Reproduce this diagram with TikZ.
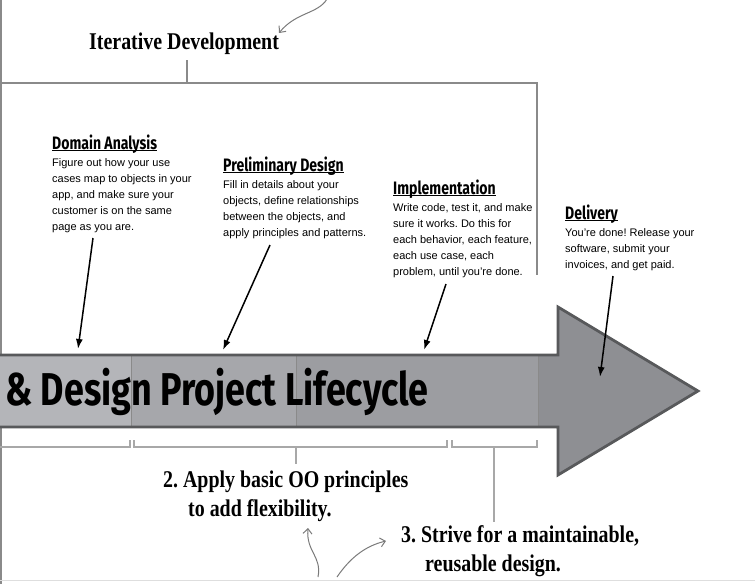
\documentclass[tikz,border=0pt]{standalone}
\usepackage{fontspec}
\setmainfont{Liberation Sans}
\newfontfamily\handfont[FakeStretch=0.78]{Fira Sans}
\newfontfamily\notefont[FakeStretch=0.83]{Liberation Serif}
\usepackage{xcolor}
\usepackage{tikz}
\usetikzlibrary{positioning, arrows.meta}

\definecolor{segA}{HTML}{B4B5B9}
\definecolor{segB}{HTML}{A6A7AB}
\definecolor{segC}{HTML}{9C9DA1}
\definecolor{segD}{HTML}{8E8F93}
\definecolor{borderg}{HTML}{58595B}
\definecolor{frameg}{HTML}{8A8A8A}
\definecolor{braceg}{HTML}{A8A8A8}
\definecolor{curlg}{HTML}{7A7A7A}

\newcommand{\headul}[1]{\setbox0\hbox{#1}\rlap{\copy0}\rule[-1.8pt]{\wd0}{1.1pt}}
\frenchspacing

\begin{document}
\begin{tikzpicture}[x=1pt, y=-1pt, >={Latex[length=10pt,width=7pt]},
    stephead/.style={font=\handfont\bfseries\fontsize{18}{18}\selectfont, inner sep=0pt, anchor=base west},
    steptext/.style={font=\fontsize{11}{16}\selectfont, align=left, inner sep=0pt},
    notetext/.style={font=\notefont\bfseries\fontsize{24}{29}\selectfont, align=left, inner sep=0pt},
    framel/.style={draw=frameg, line width=1.3pt},
    bracel/.style={draw=braceg, line width=1.1pt},
    pointer/.style={->, line width=1.5pt},
    curly/.style={-{Straight Barb[length=5pt,width=9pt]}, draw=curlg, line width=1pt}]
    \useasboundingbox (0,0) rectangle (755,584);

    % 1. Khung Iterative Development
    \draw[framel] (1,0) -- (1,584);
    \draw[framel] (1,83) -- (537,83) -- (537,275);
    \node[notetext, anchor=base west] (iter) at (89,49) {Iterative Development};
    \coordinate (itertick) at (187,60);
    \draw[framel] (itertick) -- (187,83);
    \coordinate (itercurl) at (327,-1);
    \coordinate (iterend) at (279,33);
    \draw[curly] (itercurl) .. controls (318,14) and (296,12) .. (iterend);

    % 2. Mui ten lon
    \fill[segA] (0,355) rectangle (131,427);
    \fill[segB] (131,355) rectangle (296,427);
    \fill[segC] (296,355) rectangle (538,427);
    \fill[segD] (538,355) rectangle (558,427);
    \fill[segD] (558,307) -- (698,391) -- (558,475) -- cycle;
    \draw[frameg, line width=0.9pt] (131,355) -- (131,427) (296,355) -- (296,427) (538,355) -- (538,427);
    \draw[borderg, line width=2.8pt, line join=miter]
        (0,355) -- (558,355) -- (558,307) -- (698,391) -- (558,475) -- (558,427) -- (0,427);
    \node[font=\handfont\bfseries\fontsize{46}{46}\selectfont, inner sep=0pt, anchor=base west]
        (title) at (5,405) {\& Design Project Lifecycle};

    % 3. Cac buoc
    \node[stephead] (domhead) at (52,149) {\headul{Domain Analysis}};
    \node[steptext, below right=9pt and 0pt of domhead.base west] (dom)
        {Figure out how your use\\cases map to objects in your\\app, and make sure your\\customer is on the same\\page as you are.};
    \node[stephead] (prehead) at (223,171) {\headul{Preliminary Design}};
    \node[steptext, below right=9pt and 0pt of prehead.base west] (pre)
        {Fill in details about your\\objects, define relationships\\between the objects, and\\apply principles and patterns.};
    \node[stephead] (imphead) at (393,194) {\headul{Implementation}};
    \node[steptext, below right=9pt and 0pt of imphead.base west] (imp)
        {Write code, test it, and make\\sure it works. Do this for\\each behavior, each feature,\\each use case, each\\problem, until you’re done.};
    \node[stephead] (delhead) at (565,219) {\headul{Delivery}};
    \node[steptext, below right=9pt and 0pt of delhead.base west] (del)
        {You’re done! Release your\\software, submit your\\invoices, and get paid.};

    % 4. Mui ten chi xuong
    \coordinate (domfrom) at (93,238);  \coordinate (domto) at (78,349);
    \coordinate (prefrom) at (270,245); \coordinate (preto) at (223,350);
    \coordinate (impfrom) at (446,284); \coordinate (impto) at (424,350);
    \coordinate (delfrom) at (613,276); \coordinate (delto) at (600,377);
    \draw[pointer] (domfrom) -- (domto);
    \draw[pointer] (prefrom) -- (preto);
    \draw[pointer] (impfrom) -- (impto);
    \draw[pointer] (delfrom) -- (delto);

    % 5. Ngoac duoi
    \draw[bracel] (0,447) -- (130,447) -- (130,440);
    \draw[bracel] (134,440) -- (134,447) -- (447,447) -- (447,440);
    \draw[bracel] (452,440) -- (452,447) -- (537,447) -- (537,440);
    \draw[bracel] (296,447) -- (296,464);
    \draw[bracel] (494,447) -- (494,522);

    % 6. Ghi chu
    \node[notetext, anchor=north west] (oo) at (163,470.5)
        {2. Apply basic OO principles\\\hspace*{25pt}to add flexibility.};
    \node[notetext, anchor=north west] (reuse) at (401,525.5)
        {3. Strive for a maintainable,\\\hspace*{24pt}reusable design.};
    \coordinate (oocurl) at (318,577);  \coordinate (ooend) at (308,528);
    \coordinate (reusecurl) at (337,577); \coordinate (reuseend) at (386,541);
    \draw[curly] (oocurl) .. controls (322,556) and (306,552) .. (ooend);
    \draw[curly] (reusecurl) .. controls (350,558) and (365,546) .. (reuseend);
    \draw[draw=black!13, line width=1pt] (0,580) -- (755,580);
\end{tikzpicture}
\end{document}
